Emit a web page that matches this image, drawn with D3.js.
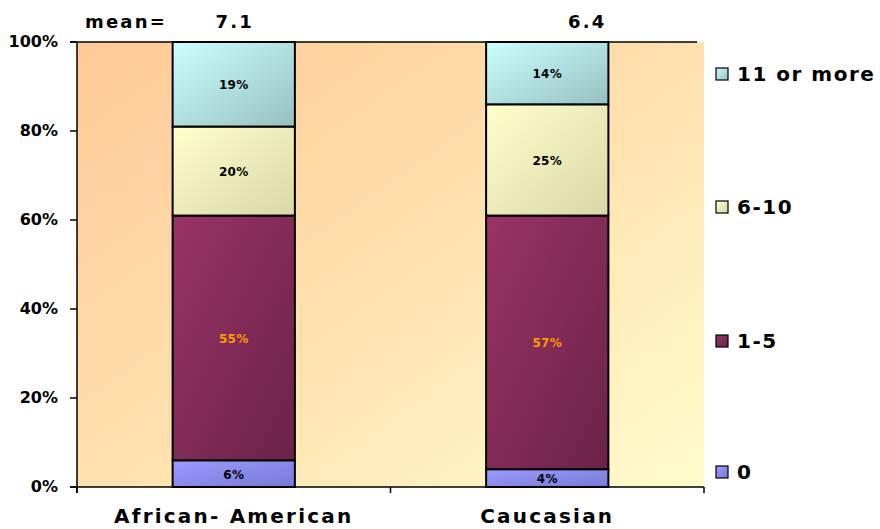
<!DOCTYPE html>
<html>
<head>
<meta charset="utf-8">
<script src="https://cdn.jsdelivr.net/npm/d3@7"></script>
<style>
  html, body { margin: 0; padding: 0; background: #fff; }
  svg { display: block; }
  text { font-family: "DejaVu Sans", Verdana, sans-serif; font-weight: bold; }
</style>
</head>
<body>
<svg id="chart" width="880" height="529"></svg>
<script>
// Number of visits, share of respondents by group
const categories = ["African- American", "Caucasian"];
const means = ["7.1", "6.4"];
const seriesNames = ["0", "1-5", "6-10", "11 or more"];
const values0 = [6, 4];
const values1to5 = [55, 57];
const values6to10 = [20, 25];
const values11plus = [19, 14];
const yTicks = [0, 20, 40, 60, 80, 100];

const colors = {
  "0":          ["#9c9cff", "#7878d6"],
  "1-5":        ["#993366", "#6a2348"],
  "6-10":       ["#ffffcc", "#d8d8a8"],
  "11 or more": ["#ccffff", "#96c0c0"]
};
const labelColors = { "0": "#000", "1-5": "#ff9900", "6-10": "#000", "11 or more": "#000" };

// layout: horizontal nudge of each mean value from its bar centre
const meanDx = [0, 39];

const rows = categories.map((c, i) => ({
  category: c,
  "0": values0[i],
  "1-5": values1to5[i],
  "6-10": values6to10[i],
  "11 or more": values11plus[i]
}));

const svg = d3.select("#chart");
const plotL = 77, plotR = 704, plotT = 42, plotB = 487;

const x = d3.scaleBand().domain(categories).range([plotL, plotR]).paddingInner(0).paddingOuter(0);
const y = d3.scaleLinear().domain([0, 100]).range([plotB, plotT]);
const barW = x.bandwidth() * 0.39;

const defs = svg.append("defs");
const bg = defs.append("linearGradient").attr("id", "bg")
  .attr("x1", 0).attr("y1", 0).attr("x2", 1).attr("y2", 1);
bg.append("stop").attr("offset", "0%").attr("stop-color", "#ffc996");
bg.append("stop").attr("offset", "50%").attr("stop-color", "#ffe0ae");
bg.append("stop").attr("offset", "100%").attr("stop-color", "#fffccc");

seriesNames.forEach((s, i) => {
  const g = defs.append("linearGradient").attr("id", "g" + i)
    .attr("x1", 0).attr("y1", 0).attr("x2", 1).attr("y2", 1);
  g.append("stop").attr("offset", "0%").attr("stop-color", colors[s][0]);
  g.append("stop").attr("offset", "100%").attr("stop-color", colors[s][1]);
});

// plot area
svg.append("rect")
  .attr("x", plotL).attr("y", plotT)
  .attr("width", plotR - plotL).attr("height", plotB - plotT)
  .attr("fill", "url(#bg)");

// stacked bars
const stack = d3.stack().keys(seriesNames)(rows);
stack.forEach((layer, li) => {
  const g = svg.append("g");
  g.selectAll("rect").data(layer).join("rect")
    .attr("x", d => x(d.data.category) + (x.bandwidth() - barW) / 2)
    .attr("y", d => y(d[1]))
    .attr("width", barW)
    .attr("height", d => y(d[0]) - y(d[1]))
    .attr("fill", "url(#g" + li + ")")
    .attr("stroke", "#000")
    .attr("stroke-width", 2);
  g.selectAll("text").data(layer).join("text")
    .attr("x", d => x(d.data.category) + x.bandwidth() / 2)
    .attr("y", d => (y(d[0]) + y(d[1])) / 2 + 5)
    .attr("text-anchor", "middle")
    .attr("font-size", 12)
    .attr("letter-spacing", 0.3)
    .attr("fill", labelColors[layer.key])
    .text(d => (d[1] - d[0]) + "%");
});

// top line at 100%
svg.append("line")
  .attr("x1", plotL - 7).attr("x2", 697)
  .attr("y1", y(100)).attr("y2", y(100))
  .attr("stroke", "#000").attr("stroke-width", 1.5);

// y axis
const yAxis = svg.append("g");
yAxis.append("line").attr("x1", plotL).attr("x2", plotL)
  .attr("y1", plotT).attr("y2", plotB + 6).attr("stroke", "#000").attr("stroke-width", 1.5);
yAxis.selectAll("line.tick").data(yTicks).join("line").attr("class", "tick")
  .attr("x1", plotL - 7).attr("x2", plotL)
  .attr("y1", d => y(d)).attr("y2", d => y(d))
  .attr("stroke", "#000").attr("stroke-width", 1.5);
yAxis.selectAll("text").data(yTicks).join("text")
  .attr("x", 58).attr("y", d => y(d) + 5)
  .attr("text-anchor", "end")
  .attr("font-size", 16)
  .text(d => d + "%");

// x axis
const xAxis = svg.append("g");
xAxis.append("line").attr("x1", plotL - 7).attr("x2", plotR)
  .attr("y1", plotB).attr("y2", plotB).attr("stroke", "#000").attr("stroke-width", 1.5);
const xTicks = [plotL].concat(categories.map(c => x(c) + x.bandwidth()));
xAxis.selectAll("line.tick").data(xTicks).join("line").attr("class", "tick")
  .attr("x1", d => d).attr("x2", d => d)
  .attr("y1", plotB).attr("y2", plotB + 6)
  .attr("stroke", "#000").attr("stroke-width", 1.5);
xAxis.selectAll("text").data(categories).join("text")
  .attr("x", d => x(d) + x.bandwidth() / 2)
  .attr("y", 523)
  .attr("text-anchor", "middle")
  .attr("font-size", 20)
  .attr("letter-spacing", 2.2)
  .text(d => d);

// means above the bars
svg.append("text").attr("x", 85).attr("y", 28)
  .attr("font-size", 18).attr("letter-spacing", 2.2).text("mean=");
svg.selectAll("text.mean").data(means).join("text").attr("class", "mean")
  .attr("x", (d, i) => x(categories[i]) + x.bandwidth() / 2 + 1 + meanDx[i])
  .attr("y", 28)
  .attr("text-anchor", "middle")
  .attr("font-size", 18).attr("letter-spacing", 2.2)
  .text(d => d);

// legend
const legendY = { "11 or more": 74, "6-10": 207, "1-5": 341, "0": 472 };
const legend = svg.append("g");
seriesNames.forEach((s, i) => {
  const ly = legendY[s];
  legend.append("rect")
    .attr("x", 716).attr("y", ly - 6).attr("width", 12).attr("height", 12)
    .attr("fill", "url(#g" + i + ")").attr("stroke", "#000").attr("stroke-width", 1.2);
  legend.append("text").attr("x", 737).attr("y", ly + 7)
    .attr("font-size", 20).attr("letter-spacing", 1.5).text(s);
});
</script>
</body>
</html>
